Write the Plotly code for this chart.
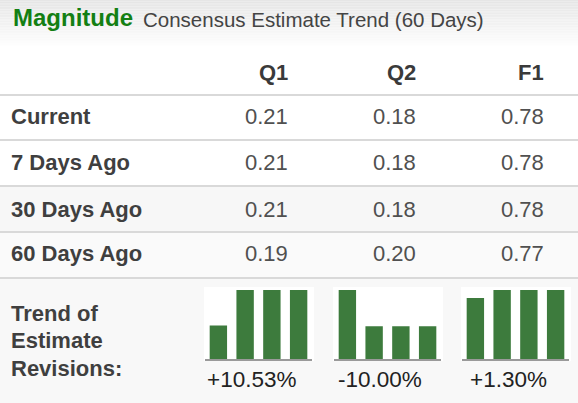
import plotly.graph_objects as go

W, H = 578, 403

# ---- data ----
columns = ["Q1", "Q2", "F1"]
row_labels = ["Current", "7 Days Ago", "30 Days Ago", "60 Days Ago"]
q1_values = [0.21, 0.21, 0.21, 0.19]
q2_values = [0.18, 0.18, 0.18, 0.20]
f1_values = [0.78, 0.78, 0.78, 0.77]
trend_labels = ["+10.53%", "-10.00%", "+1.30%"]
bar_periods = ["60 Days Ago", "30 Days Ago", "7 Days Ago", "Current"]

values_by_col = [q1_values, q2_values, f1_values]

FONT = "Liberation Sans, Arial, sans-serif"
GREEN = "#3d7b3d"


def px(x):
    return x / W


def py(y):
    return 1 - y / H


fig = go.Figure()
shapes = []
annotations = []

# header gradient
n = 30
for i in range(n):
    y0 = 48 * i / n
    y1 = 48 * (i + 1) / n
    t = i / (n - 1)
    c = int(230 + (255 - 230) * t)
    shapes.append(dict(type="rect", xref="paper", yref="paper", x0=0, x1=1,
                       y0=py(y1), y1=py(y0), fillcolor=f"rgb({c},{c},{c})",
                       line=dict(width=0), layer="below"))

# row backgrounds
row_bounds = [(95, 140), (140, 186), (186, 232), (232, 278)]
row_fill = ["#ffffff", "#ffffff", "#f7f7f7", "#fafafa"]
for (a, b), f in zip(row_bounds, row_fill):
    shapes.append(dict(type="rect", xref="paper", yref="paper", x0=0, x1=1,
                       y0=py(b), y1=py(a), fillcolor=f, line=dict(width=0), layer="below"))
shapes.append(dict(type="rect", xref="paper", yref="paper", x0=0, x1=1,
                   y0=0, y1=py(278), fillcolor="#f8f8f8", line=dict(width=0), layer="below"))

# separators
for yy in [95, 140, 186, 232, 278]:
    shapes.append(dict(type="line", xref="paper", yref="paper", x0=0, x1=1,
                       y0=py(yy), y1=py(yy), line=dict(color="#d9d9d9", width=2), layer="below"))

# title
annotations.append(dict(x=px(11), y=py(18), xref="paper", yref="paper", xanchor="left",
                        yanchor="middle", showarrow=False,
                        text="<b>Magnitude</b>",
                        font=dict(family=FONT, size=24, color="#137f13")))
annotations.append(dict(x=px(141), y=py(19), xref="paper", yref="paper", xanchor="left",
                        yanchor="middle", showarrow=False,
                        text="Consensus Estimate Trend (60 Days)",
                        font=dict(family=FONT, size=20.5, color="#444444")))

col_right = [290, 418, 546]
for c, xr in zip(columns, col_right):
    annotations.append(dict(x=px(xr), y=py(72), xref="paper", yref="paper", xanchor="right",
                            yanchor="middle", showarrow=False, text=f"<b>{c}</b>",
                            font=dict(family=FONT, size=22, color="#3a3a3a")))

row_y = [117, 163, 209, 254]
for r, (lab, yy) in enumerate(zip(row_labels, row_y)):
    annotations.append(dict(x=px(9), y=py(yy), xref="paper", yref="paper", xanchor="left",
                            yanchor="middle", showarrow=False, text=f"<b>{lab}</b>",
                            font=dict(family=FONT, size=22, color="#3f3f3f")))
    for vals, xr in zip(values_by_col, col_right):
        annotations.append(dict(x=px(xr), y=py(yy), xref="paper", yref="paper", xanchor="right",
                                yanchor="middle", showarrow=False, text=f"{vals[r]:.2f}",
                                font=dict(family=FONT, size=22, color="#505050")))

for txt, yy in zip(["Trend of", "Estimate", "Revisions:"], [313, 340, 368]):
    annotations.append(dict(x=px(9), y=py(yy), xref="paper", yref="paper", xanchor="left",
                            yanchor="middle", showarrow=False, text=f"<b>{txt}</b>",
                            font=dict(family=FONT, size=22, color="#3f3f3f")))

# sparkline bar charts
box_left = [204, 333, 461]
layout_axes = {}
for i, (vals, bl, lab) in enumerate(zip(values_by_col, box_left, trend_labels)):
    k = "" if i == 0 else str(i + 1)
    shapes.append(dict(type="rect", xref="paper", yref="paper", x0=px(bl), x1=px(bl + 110),
                       y0=py(361), y1=py(287), fillcolor="#ffffff", line=dict(width=0),
                       layer="below"))
    series = list(reversed(vals))  # oldest first
    fig.add_trace(go.Bar(x=bar_periods, y=series, marker=dict(color=GREEN, line=dict(width=0)),
                         xaxis=f"x{k}", yaxis=f"y{k}", hoverinfo="skip", showlegend=False))
    lo = min(vals) * 0.9
    hi = max(vals)
    layout_axes[f"xaxis{k}"] = dict(domain=[px(bl + 1), px(bl + 108)], anchor=f"y{k}",
                                    showticklabels=False, showgrid=False, zeroline=False,
                                    showline=True, linecolor="#9a9a9a", linewidth=2,
                                    ticks="", fixedrange=True)
    layout_axes[f"yaxis{k}"] = dict(domain=[py(359), py(290)], anchor=f"x{k}",
                                    range=[lo, hi], showticklabels=False, showgrid=False,
                                    zeroline=False, showline=False, fixedrange=True)
    annotations.append(dict(x=px(bl + 47), y=py(379), xref="paper", yref="paper",
                            xanchor="center", yanchor="middle", showarrow=False, text=lab,
                            font=dict(family=FONT, size=22.5, color="#222222")))

fig.update_layout(
    width=W, height=H,
    margin=dict(l=0, r=0, t=0, b=0),
    paper_bgcolor="#ffffff",
    plot_bgcolor="rgba(0,0,0,0)",
    bargap=0.35,
    shapes=shapes,
    annotations=annotations,
    **layout_axes,
)

fig.write_html("out.html", config={"displayModeBar": False},
               post_script="document.body.style.margin='0';document.body.style.overflow='hidden';")
